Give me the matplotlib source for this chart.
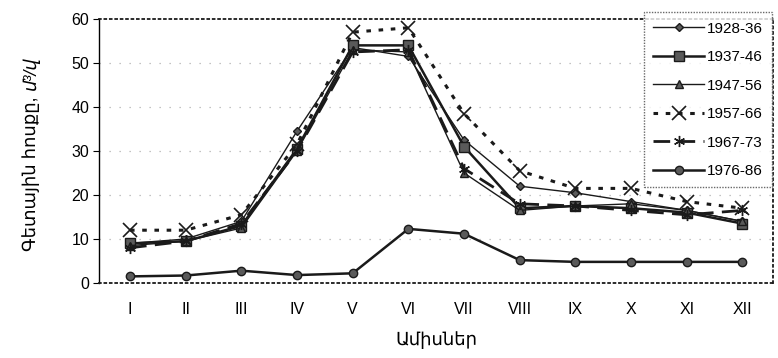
import matplotlib
matplotlib.use("Agg")
import matplotlib.pyplot as plt

months = ["I", "II", "III", "IV", "V", "VI", "VII", "VIII", "IX", "X", "XI", "XII"]

s_1928_36 = [9.0, 10.0, 14.0, 34.5, 53.5, 51.5, 32.5, 22.0, 20.5, 18.5, 16.5, 14.0]
s_1937_46 = [9.0, 9.5, 13.0, 30.5, 54.0, 54.0, 31.0, 17.0, 17.5, 17.0, 16.0, 13.5]
s_1947_56 = [8.5, 9.5, 12.5, 30.0, 53.0, 52.5, 25.0, 16.5, 17.5, 18.0, 16.5, 14.0]
s_1957_66 = [12.0, 12.0, 15.5, 31.5, 57.0, 58.0, 38.5, 25.5, 21.5, 21.5, 18.5, 17.0]
s_1967_73 = [8.0, 9.5, 13.5, 30.0, 52.5, 53.0, 26.0, 18.0, 17.5, 16.5, 15.5, 16.5]
s_1976_86 = [1.5, 1.7, 2.8, 1.8, 2.2, 12.3, 11.2, 5.2, 4.8, 4.8, 4.8, 4.8]

series_labels = ["1928-36", "1937-46", "1947-56", "1957-66", "1967-73", "1976-86"]

plt.rcParams["font.family"] = ["Liberation Sans", "DejaVu Sans"]

fig = plt.figure(figsize=(7.78, 3.58), dpi=100)
ax = fig.add_axes([0.127, 0.2095, 0.8666, 0.7375])

x = list(range(len(months)))
dark = "#1a1a1a"
fill = "#5a5a5a"

ax.plot(x, s_1928_36, color=dark, lw=1.0, marker="D", ms=4,
        mfc=fill, mec=dark, label=series_labels[0], zorder=3)
ax.plot(x, s_1937_46, color=dark, lw=1.8, marker="s", ms=7,
        mfc=fill, mec=dark, label=series_labels[1], zorder=3)
ax.plot(x, s_1947_56, color=dark, lw=1.0, marker="^", ms=6,
        mfc=fill, mec=dark, label=series_labels[2], zorder=3)
ax.plot(x, s_1957_66, color=dark, lw=2.2, ls=(0, (1.5, 2.5)), marker="x", ms=10,
        mew=1.2, mec=dark, label=series_labels[3], zorder=3)
ax.plot(x, s_1967_73, color=dark, lw=2.0, ls=(0, (6, 3)), marker=(6, 2, 0), ms=8,
        mew=1.0, mec=dark, label=series_labels[4], zorder=3)
ax.plot(x, s_1976_86, color=dark, lw=1.8, marker="o", ms=6,
        mfc=fill, mec=dark, label=series_labels[5], zorder=3)

ax.set_xlim(-0.56, 11.55)
ax.set_ylim(0, 60)
ax.set_yticks(range(0, 61, 10))
ax.set_xticks(x)
ax.set_xticklabels(months)

# faint dotted horizontal grid
for yv in range(10, 60, 10):
    ax.axhline(yv, color="#b0b0b0", lw=0.9, ls=(0, (1, 7)), zorder=1)

for side in ("top", "right", "bottom"):
    ax.spines[side].set_linestyle((0, (1, 2)))
    ax.spines[side].set_linewidth(1.3)
    ax.spines[side].set_color(dark)
ax.spines["left"].set_linestyle((0, (3, 1)))
ax.spines["left"].set_linewidth(1.0)

ax.tick_params(axis="y", labelsize=11.5, length=4, direction="out", pad=3)
ax.tick_params(axis="x", labelsize=11.5, length=0, pad=14)

ax.set_xlabel("Ամիսներ", fontsize=13, labelpad=10)

# y-axis title: upright text below, italic unit above it
y_join = 0.745
fig.text(0.040, y_join, "Գետային հոսքը, ", rotation=90, fontsize=13,
         ha="center", va="top")
fig.text(0.040, y_join, "մ³/վ", rotation=90, fontsize=13, style="italic",
         ha="center", va="bottom")

leg = ax.legend(loc="upper right", bbox_to_anchor=(0.9985, 1.025), fontsize=11,
                frameon=True, fancybox=False, edgecolor="#444444",
                handlelength=3.3, handletextpad=0.2, labelspacing=0.95,
                borderpad=0.6, borderaxespad=0.0)
leg.get_frame().set_linewidth(1.0)
leg.get_frame().set_linestyle((0, (1, 1)))

fig.savefig("out.png", dpi=100)
